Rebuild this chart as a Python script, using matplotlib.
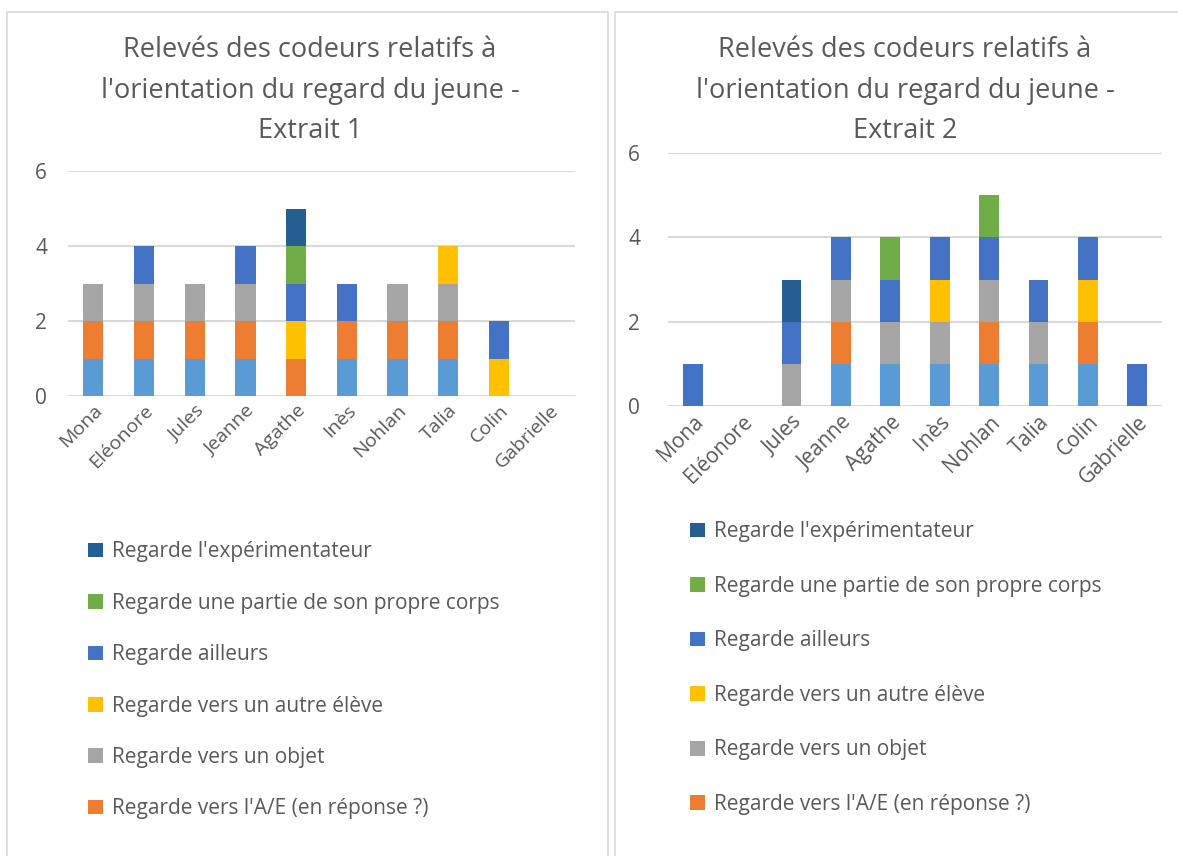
import matplotlib
matplotlib.use("Agg")
import matplotlib.pyplot as plt
import matplotlib.patches as mpatches
import numpy as np

plt.rcParams['font.family'] = ['Open Sans', 'DejaVu Sans']

eleves = ["Mona", "Eléonore", "Jules", "Jeanne", "Agathe", "Inès", "Nohlan", "Talia", "Colin", "Gabrielle"]

# series, bottom to top of the stack
series_names = ["Regarde le tableau",
                "Regarde vers l'A/E (en réponse ?)",
                "Regarde vers un objet",
                "Regarde vers un autre élève",
                "Regarde ailleurs",
                "Regarde une partie de son propre corps",
                "Regarde l'expérimentateur"]
colors = ["#5B9BD5", "#ED7D31", "#A5A5A5", "#FFC000", "#4472C4", "#70AD47", "#255E91"]

# Extrait 1
e1_tableau = [1, 1, 1, 1, 0, 1, 1, 1, 0, 0]
e1_ae      = [1, 1, 1, 1, 1, 1, 1, 1, 0, 0]
e1_objet   = [1, 1, 1, 1, 0, 0, 1, 1, 0, 0]
e1_eleve   = [0, 0, 0, 0, 1, 0, 0, 1, 1, 0]
e1_ailleurs = [0, 1, 0, 1, 1, 1, 0, 0, 1, 0]
e1_corps   = [0, 0, 0, 0, 1, 0, 0, 0, 0, 0]
e1_exp     = [0, 0, 0, 0, 1, 0, 0, 0, 0, 0]

# Extrait 2
e2_tableau = [0, 0, 0, 1, 1, 1, 1, 1, 1, 0]
e2_ae      = [0, 0, 0, 1, 0, 0, 1, 0, 1, 0]
e2_objet   = [0, 0, 1, 1, 1, 1, 1, 1, 0, 0]
e2_eleve   = [0, 0, 0, 0, 0, 1, 0, 0, 1, 0]
e2_ailleurs = [1, 0, 1, 1, 1, 1, 1, 1, 1, 1]
e2_corps   = [0, 0, 0, 0, 1, 0, 1, 0, 0, 0]
e2_exp     = [0, 0, 1, 0, 0, 0, 0, 0, 0, 0]

extrait1 = [e1_tableau, e1_ae, e1_objet, e1_eleve, e1_ailleurs, e1_corps, e1_exp]
extrait2 = [e2_tableau, e2_ae, e2_objet, e2_eleve, e2_ailleurs, e2_corps, e2_exp]

W, H = 1178, 856
fig = plt.figure(figsize=(W / 100, H / 100), dpi=100)
txt = "#595959"
grid_c = "#D9D9D9"

# panel borders
for x0, x1 in [(7, 608), (615, 1190)]:
    fig.patches.append(mpatches.Rectangle((x0 / W, -0.05), (x1 - x0) / W, (H - 12) / H + 0.05,
                                          transform=fig.transFigure, fill=False,
                                          edgecolor=grid_c, lw=1.2))


def draw(rect, data, title, title_x, title_y, leg_xy, leg_space, xlab_size, ypad):
    ax = fig.add_axes(rect)
    x = np.arange(len(eleves))
    bottom = np.zeros(len(eleves))
    handles = []
    for vals, name, col in zip(data, series_names, colors):
        vals = np.array(vals)
        b = ax.bar(x, vals, 0.4, bottom=bottom, color=col, label=name, zorder=3)
        handles.append(b)
        bottom += vals
    ax.set_ylim(0, 6)
    ax.set_xlim(-0.5, len(eleves) - 0.5)
    ax.set_yticks([0, 2, 4, 6])
    ax.yaxis.grid(True, color=grid_c, lw=1.5, zorder=0)
    ax.set_axisbelow(True)
    for s in ax.spines.values():
        s.set_visible(False)
    ax.tick_params(axis='y', length=0, labelsize=15, colors=txt, pad=ypad)
    ax.tick_params(axis='x', length=0, pad=4, labelsize=xlab_size, colors=txt)
    ax.set_xticks(x)
    ax.set_xticklabels(eleves, rotation=45, ha='right', rotation_mode='anchor')
    fig.text(title_x / W, 1 - title_y / H, title, ha='center', va='top', fontsize=19.5,
             color=txt, linespacing=1.6)
    fig.legend(handles[::-1][:6], series_names[::-1][:6], loc='upper left',
               bbox_to_anchor=(leg_xy[0] / W, 1 - leg_xy[1] / H), frameon=False,
               fontsize=15, labelcolor=txt, handlelength=0.7, handleheight=0.7,
               handletextpad=0.45, labelspacing=leg_space, borderaxespad=0)
    return ax


title1 = "Relevés des codeurs relatifs à\nl'orientation du regard du jeune -\nExtrait 1"
title2 = "Relevés des codeurs relatifs à\nl'orientation du regard du jeune -\nExtrait 2"

draw([68 / W, 1 - 396 / H, 507 / W, 225 / H], extrait1, title1, 310, 36, (80, 533), 1.46, 14, 15)
draw([668 / W, 1 - 406 / H, 494 / W, 253 / H], extrait2, title2, 905, 36, (682, 513), 1.61, 15, 20)

fig.savefig("out.png", dpi=100)
